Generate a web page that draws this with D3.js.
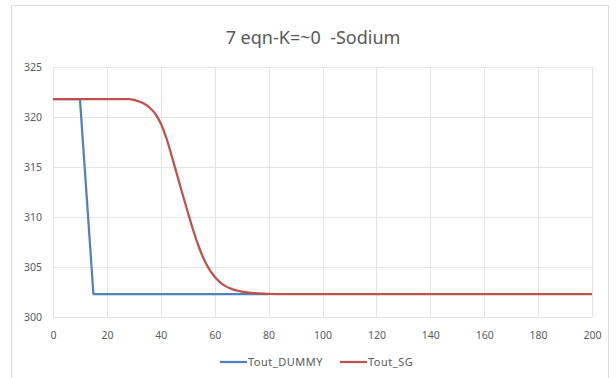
<!DOCTYPE html>
<html>
<head>
<meta charset="utf-8">
<script src="https://cdn.jsdelivr.net/npm/d3@7"></script>
<style>
    body { margin: 0; background: #fff; }
    svg { display: block; }
    text { font-family: "Noto Sans", "Open Sans", sans-serif; }
</style>
</head>
<body>
<div id="chart"></div>
<script>
// Данные графика
const xTicks = [0, 20, 40, 60, 80, 100, 120, 140, 160, 180, 200];
const yTicks = [300, 305, 310, 315, 320, 325];

const dummyX = [0, 10, 15, 80];
const dummyY = [321.8, 321.8, 302.3, 302.3];

const sgX = [0, 20, 28, 30, 32, 34, 36, 38, 40, 42, 44, 46, 48, 50, 52, 54, 56, 58, 60, 62, 64, 66, 68, 70, 72, 75, 80, 85, 100, 200];
const sgY = [321.8, 321.8, 321.78, 321.72, 321.55, 321.3, 320.9, 320.3, 319.35, 317.95, 316.15, 314.25, 312.35, 310.5, 308.7, 307.1, 305.78, 304.77, 304.02, 303.47, 303.09, 302.84, 302.66, 302.54, 302.46, 302.38, 302.32, 302.3, 302.3, 302.3];

const seriesNames = ['Tout_DUMMY', 'Tout_SG'];
const seriesColors = ['#4f81bd', '#c0504d'];

const width = 616;
const height = 378;
const plot = { left: 53, right: 592, top: 67, bottom: 317 };

const svg = d3.select('#chart').append('svg')
    .attr('width', width)
    .attr('height', height);

// Рамка диаграммы
svg.append('rect')
    .attr('x', 11.5).attr('y', 5.5)
    .attr('width', 597).attr('height', 390)
    .attr('fill', '#fff')
    .attr('stroke', '#d9d9d9');

const x = d3.scaleLinear().domain([0, 200]).range([plot.left, plot.right]);
const y = d3.scaleLinear().domain([300, 325]).range([plot.bottom, plot.top]);

// Сетка
svg.append('g')
    .selectAll('line')
    .data(xTicks)
    .enter().append('line')
    .attr('x1', d => Math.round(x(d)) + 0.5)
    .attr('x2', d => Math.round(x(d)) + 0.5)
    .attr('y1', plot.top)
    .attr('y2', plot.bottom)
    .attr('stroke', '#e3e3e3');

svg.append('g')
    .selectAll('line')
    .data(yTicks)
    .enter().append('line')
    .attr('x1', plot.left)
    .attr('x2', plot.right)
    .attr('y1', d => Math.round(y(d)) + 0.5)
    .attr('y2', d => Math.round(y(d)) + 0.5)
    .attr('stroke', '#e3e3e3');

// Подписи осей
const xAxis = svg.append('g')
    .attr('transform', `translate(0,${plot.bottom + 18})`)
    .call(d3.axisBottom(x).tickValues(xTicks).tickSize(0).tickPadding(0));
xAxis.select('.domain').remove();
xAxis.selectAll('text').attr('fill', '#595959').attr('dy', '0.35em').style('font-size', '10.5px');

const yAxis = svg.append('g')
    .attr('transform', `translate(${plot.left - 11},0)`)
    .call(d3.axisLeft(y).tickValues(yTicks).tickSize(0).tickPadding(0));
yAxis.select('.domain').remove();
yAxis.selectAll('text').attr('fill', '#595959').style('font-size', '10.5px');

// Линии серий
const line = d3.line()
    .x(d => x(d[0]))
    .y(d => y(d[1]));

const series = [
    d3.zip(dummyX, dummyY),
    d3.zip(sgX, sgY)
];

series.forEach((pts, i) => {
    svg.append('path')
        .datum(pts)
        .attr('fill', 'none')
        .attr('stroke', seriesColors[i])
        .attr('stroke-width', 2.25)
        .attr('stroke-linejoin', 'round')
        .attr('d', line.curve(i === 1 ? d3.curveMonotoneX : d3.curveLinear));
});

// Заголовок
svg.append('text')
    .attr('x', 313)
    .attr('y', 44)
    .attr('text-anchor', 'middle')
    .attr('fill', '#595959')
    .style('font-size', '18px')
    .attr('xml:space', 'preserve')
    .text('7 eqn-K=~0  -Sodium');

// Легенда
const legendX = [220, 340];
seriesNames.forEach((name, i) => {
    const g = svg.append('g').attr('transform', `translate(${legendX[i]},362)`);
    g.append('line')
        .attr('x1', 0).attr('x2', 27)
        .attr('stroke', seriesColors[i])
        .attr('stroke-width', 2.25);
    g.append('text')
        .attr('x', 28)
        .attr('dy', '0.35em')
        .attr('fill', '#595959')
        .style('font-size', '11px')
        .style('letter-spacing', '0.5px')
        .text(name);
});
</script>
</body>
</html>
